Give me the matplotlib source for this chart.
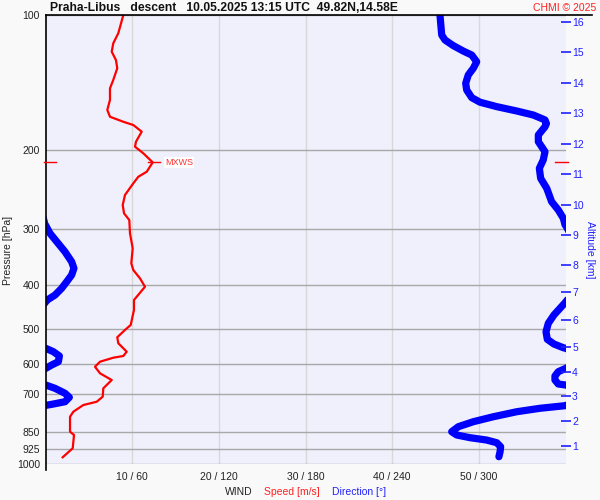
import numpy as np
import matplotlib
matplotlib.use("Agg")
import matplotlib.pyplot as plt
from matplotlib.lines import Line2D
import matplotlib.transforms as mtrans

plt.rcParams['font.family'] = ['Liberation Sans', 'DejaVu Sans']

# ---- data ----
speed_p = [100, 109.8, 115.6, 120.7, 126.0, 131.4, 139.5, 145.7, 154.6, 162.7,
           168.5, 172.9, 175.8, 181.9, 191.5, 196.5, 203.2, 212.9, 223.4, 229.2,
           237.1, 251.7, 265.0, 276.5, 286.2, 306.4, 330.8, 357.3, 369.8, 385.9,
           402.9, 431.3, 453.9, 490.2, 502.9, 522.1, 538.4, 562.1, 574.7, 579.8,
           591.8, 607.2, 628.1, 650.1, 678.4, 708.2, 726.6, 739.1, 764.9, 784.8,
           847.4, 861.8, 922.6, 966.2]
speed = [8.98, 8.40, 7.82, 7.64, 8.13, 8.28, 7.82, 7.44, 7.44, 7.13,
         7.44, 8.98, 10.13, 11.10, 10.44, 10.33, 11.28, 12.37, 11.68, 10.71,
         10.13, 9.17, 8.91, 9.06, 9.67, 9.75, 10.06, 9.9, 10.13, 10.90,
         11.48, 10.21, 10.21, 9.83, 9.17, 8.28, 8.40, 9.37, 8.98, 7.82,
         6.29, 5.71, 6.29, 7.64, 6.67, 6.60, 5.91, 4.36, 3.21, 2.83,
         2.83, 3.29, 3.14, 1.98]

dir_p = [100, 110.8, 113.7, 117.0, 120.3, 122.8, 127.1, 131.4, 136.0, 141.9,
         146.9, 152.8, 156.4, 160.0, 163.6, 167.0, 171.3, 174.5, 177.4, 185.0,
         191.5, 201.6, 210.3, 219.5, 231.1, 243.2, 260.5, 271.8, 283.6, 293.5,
         295.1, 306.4, 319.8, 336.8, 354.4, 366.6, 379.4, 392.6, 406.1, 420.4,
         431.3,
         437.3, 450.0, 465.7, 486.0, 507.5, 527.6, 540.5, 550.9,
         552.6, 562.1, 574.7, 591.8, 601.8, 612.3,
         622.9, 636.9, 650.1, 663.5,
         667.0, 678.4, 695.9, 710.4, 726.6, 735.3, 740.3,
         741.5, 751.5, 764.9, 784.8, 805.0, 825.9, 847.4, 861.8, 873.8, 884.4,
         896.7, 915.3, 939.0, 963.3]
direction = [273.1, 274.3, 276.6, 282.3, 289.2, 295.1, 298.5, 296.2, 292.7, 290.9,
             291.6, 295.1, 300.8, 312.4, 326.2, 337.7, 345.8, 346.8, 345.8, 341.2,
             341.2, 345.8, 344.6, 341.9, 342.8, 347.0, 350.4, 355.0, 358.5, 359.7,
             0.35, 3.1, 7.8, 13.5, 18.1, 19.7, 18.1, 14.7, 11.2, 6.6,
             1.2,
             359.7, 356.2, 352.0, 348.1, 346.5, 347.4, 352.0, 358.5,
             0.2, 5.4, 9.6, 8.9, 4.3, 0.2,
             355.0, 352.7, 352.7, 355.0,
             0.2, 6.6, 13.5, 16.5, 13.5, 5.4, 0.2,
             359.7, 342.3, 326.2, 310.0, 296.2, 285.8, 281.2, 284.7, 293.9, 305.4,
             312.4, 315.1, 314.7, 313.9]

p_ticks = [100, 200, 300, 400, 500, 600, 700, 850, 925, 1000]
x_ticks = [10, 20, 30, 40, 50]
x_labels = ["10 / 60", "20 / 120", "30 / 180", "40 / 240", "50 / 300"]
alt_km = [1, 2, 3, 4, 5, 6, 7, 8, 9, 10, 11, 12, 13, 14, 15, 16]
alt_p = [912, 802, 706, 624, 549, 478, 414, 360, 309, 265, 226, 193.8, 165.3,
         141.7, 120.9, 103.6]
mxws_p = 212.9
mxws_speed = 12.37

title = "Praha-Libus   descent   10.05.2025 13:15 UTC  49.82N,14.58E"

# ---- figure ----
fig = plt.figure(figsize=(6, 5), dpi=100, facecolor='#f9f9f9')
ax = fig.add_axes([45.5 / 600, 1 - 464 / 500, 520 / 600, 449 / 500])
ax.set_facecolor('#f0f0fd')

ax.set_yscale('log')
ax.set_ylim(1000, 100)
ax.set_xlim(0, 60)

ax.set_yticks(p_ticks)
ax.set_yticklabels([str(t) for t in p_ticks])
ax.yaxis.set_minor_locator(matplotlib.ticker.NullLocator())
ax.set_xticks(x_ticks)
ax.set_xticklabels(x_labels)
ax.tick_params(axis='y', length=0, pad=4, labelsize=7.5, colors='#222222')
ax.tick_params(axis='x', length=0, pad=6, labelsize=7.5, colors='#222222')

for p in p_ticks:
    ax.axhline(p, color='#a8a8a8', lw=1.0, zorder=1)
for x in x_ticks:
    ax.axvline(x, color='#d8d8d8', lw=1.0, zorder=0.9)

for s in ['top', 'right', 'bottom', 'left']:
    ax.spines[s].set_visible(False)
ax.add_line(Line2D([0, 0], [-0.013, 1], transform=ax.transAxes, color='black',
                   lw=1.2, clip_on=False, zorder=5))
ax.add_line(Line2D([0, 1.05], [1, 1], transform=ax.transAxes, color='black',
                   lw=1.2, clip_on=False, zorder=5))

# direction (wrapped around 0/360)
d = np.rad2deg(np.unwrap(np.deg2rad(direction)))
dx = d * 60.0 / 360.0
for shift in (-60, 0, 60):
    ax.plot(dx + shift, dir_p, color='#0000ff', lw=5.2, solid_capstyle='round',
            solid_joinstyle='round', zorder=3)

# speed
ax.plot(speed, speed_p, color='#ff0000', lw=1.6, zorder=4,
        solid_joinstyle='round')

# MXWS markers
blend = mtrans.blended_transform_factory(ax.transAxes, ax.transData)
ax.plot([mxws_speed - 0.55, mxws_speed + 0.85], [mxws_p, mxws_p], color='#ff0000',
        lw=1.0, zorder=4)
ax.add_line(Line2D([-0.002, 0.021], [mxws_p, mxws_p], color='#ff0000', lw=1.0,
                   clip_on=False, transform=blend, zorder=6))
ax.add_line(Line2D([0.98, 1.005], [mxws_p, mxws_p], color='#ff0000', lw=1.0,
                   clip_on=False, transform=blend, zorder=6))
ax.text(mxws_speed + 1.4, mxws_p, "MXWS", color='#ff3030', fontsize=6.5,
        va='center', ha='left', zorder=6,
        bbox=dict(facecolor='white', edgecolor='none', pad=0.5))

# altitude axis
ax2 = ax.twinx()
ax2.set_yscale('log')
ax2.set_ylim(1000, 100)
ax2.set_yticks(alt_p)
ax2.set_yticklabels([str(k) for k in alt_km])
ax2.yaxis.set_minor_locator(matplotlib.ticker.NullLocator())
ax2.tick_params(axis='y', direction='inout', length=6.5, width=1.2, colors='#2020ff',
                labelsize=7.5, pad=1.5)
for s in ['top', 'right', 'bottom', 'left']:
    ax2.spines[s].set_visible(False)

# labels
fig.text(8 / 600, 1 - 250 / 500, "Pressure [hPa]", rotation=90, va='center', ha='center',
         fontsize=7.5, color='#222222')
fig.text(590 / 600, 1 - 250 / 500, "Altitude [km]", rotation=270, va='center', ha='center',
         fontsize=7.5, color='#2020ff')
fig.text(50 / 600, 1 - 8 / 500, title, fontsize=8.7, fontweight='bold', va='center',
         ha='left', color='#111111')
fig.text(596 / 600, 1 - 8 / 500, "CHMI © 2025", fontsize=7.5, color='#ff2020',
         va='center', ha='right')
fig.text(225 / 600, 1 - 492 / 500, "WIND", fontsize=7.5, color='#222222', va='center', ha='left')
fig.text(264 / 600, 1 - 492 / 500, "Speed [m/s]", fontsize=7.5, color='#ff2020', va='center', ha='left')
fig.text(332 / 600, 1 - 492 / 500, "Direction [°]", fontsize=7.5, color='#2020ff', va='center', ha='left')

fig.savefig("out.png", dpi=100, facecolor=fig.get_facecolor())
